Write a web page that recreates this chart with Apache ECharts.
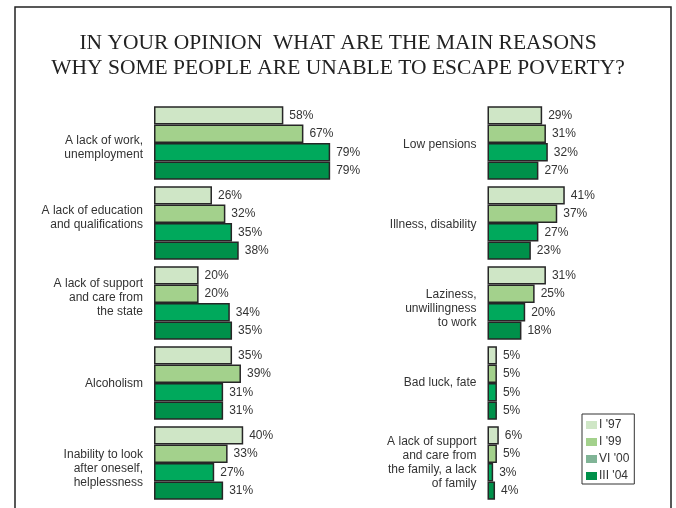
<!DOCTYPE html>
<html>
<head>
<meta charset="utf-8">
<script src="https://cdn.jsdelivr.net/npm/echarts@6/dist/echarts.min.js"></script>
<style>
  html, body { margin: 0; padding: 0; background: #fff; }
  #chart { width: 676px; height: 508px; }
</style>
</head>
<body>
<div id="chart"></div>
<script>
// Survey waves
const waves = ["I '97", "I '99", "VI '00", "III '04"];

// Reasons shown in the left column
const leftReasons = [
  'A lack of work,\nunemployment',
  'A lack of education\nand qualifications',
  'A lack of support\nand care from\nthe state',
  'Alcoholism',
  'Inability to look\nafter oneself,\nhelplessness'
];
// Reasons shown in the right column
const rightReasons = [
  'Low pensions',
  'Illness, disability',
  'Laziness,\nunwillingness\nto work',
  'Bad luck, fate',
  'A lack of support\nand care from\nthe family, a lack\nof family'
];

// Percentages per wave, left column
const left97 = [58, 26, 20, 35, 40];
const left99 = [67, 32, 20, 39, 33];
const left00 = [79, 35, 34, 31, 27];
const left04 = [79, 38, 35, 31, 31];

// Percentages per wave, right column
const right97 = [29, 41, 31, 5, 6];
const right99 = [31, 37, 25, 5, 5];
const right00 = [32, 27, 20, 5, 3];
const right04 = [27, 23, 18, 5, 4];

const barColors = ['#cfe6c6', '#a3d18c', '#00a95c', '#00904a'];
const legendColors = ['#cfe6c6', '#a3d18c', '#80b496', '#00904a'];

const leftData = [left97, left99, left00, left04];
const rightData = [right97, right99, right00, right04];

// vertical nudge (px, positive = down) of each reason label from its band centre
const leftNudge = [5, -5, -5, 1, 6];
const rightNudge = [2, 2, 6, 0, 0];

const sansFont = '"Liberation Sans", Arial, sans-serif';

function makeSeries(values, idx) {
  return values.map((arr, i) => ({
    type: 'bar',
    name: waves[i],
    xAxisIndex: idx,
    yAxisIndex: idx,
    data: arr,
    barGap: '0%',
    barCategoryGap: '8%',
    itemStyle: { color: barColors[i], borderColor: '#262626', borderWidth: 1.5 },
    label: {
      show: true,
      position: 'right',
      distance: 6,
      formatter: '{c}%',
      fontFamily: sansFont,
      fontSize: 12,
      color: '#333'
    },
    emphasis: { disabled: true },
    animation: false
  }));
}

// A spacer line above (or below) a label pushes its block down (or up) by half the spacer height.
function catAxis(names, nudges, idx) {
  const rich = {};
  nudges.forEach(d => {
    const h = Math.round(Math.abs(d) * 2);
    if (h > 0) rich['sp' + h] = { fontSize: 1, lineHeight: h, height: h };
  });
  return {
    type: 'category',
    gridIndex: idx,
    data: names,
    inverse: true,
    axisLine: { show: false },
    axisTick: { show: false },
    axisLabel: {
      margin: 11,
      fontFamily: sansFont,
      fontSize: 12,
      lineHeight: 14,
      color: '#333',
      align: 'right',
      rich: rich,
      formatter: (value, i) => {
        const d = nudges[i];
        const h = Math.round(Math.abs(d) * 2);
        if (h === 0) return value;
        return d > 0 ? '{sp' + h + '| }\n' + value : value + '\n{sp' + h + '| }';
      }
    }
  };
}

function valAxis(idx) {
  return {
    type: 'value',
    gridIndex: idx,
    min: 0,
    max: 100,
    show: false,
    splitLine: { show: false }
  };
}

const chart = echarts.init(document.getElementById('chart'), null, { renderer: 'canvas' });

chart.setOption({
  backgroundColor: '#fff',
  animation: false,
  title: {
    text: 'IN YOUR OPINION  WHAT ARE THE MAIN REASONS\nWHY SOME PEOPLE ARE UNABLE TO ESCAPE POVERTY?',
    left: 'center',
    top: 31,
    padding: 0,
    textStyle: {
      fontFamily: '"Liberation Serif", "Times New Roman", serif',
      fontSize: 21.5,
      fontWeight: 'normal',
      lineHeight: 25,
      color: '#222'
    }
  },
  grid: [
    { left: 154, top: 103, width: 223, height: 400 },
    { left: 487.5, top: 103, width: 223, height: 400 }
  ],
  xAxis: [valAxis(0), valAxis(1)],
  yAxis: [catAxis(leftReasons, leftNudge, 0), catAxis(rightReasons, rightNudge, 1)],
  legend: {
    orient: 'vertical',
    left: 582,
    top: 414,
    padding: [5, 5, 2, 4],
    itemWidth: 11,
    itemHeight: 8,
    itemGap: 5,
    borderColor: '#333',
    borderWidth: 1,
    selectedMode: false,
    itemStyle: { borderWidth: 0 },
    textStyle: { fontFamily: sansFont, fontSize: 12, color: '#333', padding: [0, 0, 0, -3] },
    data: waves.map((w, i) => ({ name: w, icon: 'rect', itemStyle: { color: legendColors[i], borderWidth: 0 } }))
  },
  graphic: [
    {
      type: 'rect',
      shape: { x: 15, y: 7, width: 656, height: 520 },
      style: { fill: 'none', stroke: '#222', lineWidth: 1.5 },
      silent: true,
      z: 10
    }
  ],
  series: makeSeries(leftData, 0).concat(makeSeries(rightData, 1))
});
</script>
</body>
</html>
